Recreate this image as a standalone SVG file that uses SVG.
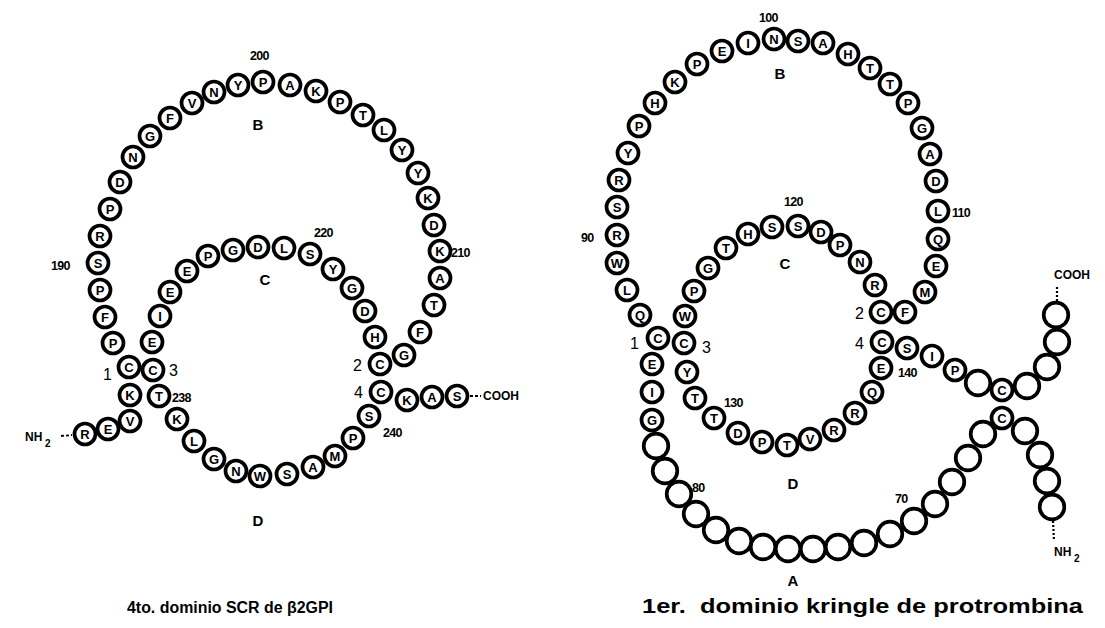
<svg xmlns="http://www.w3.org/2000/svg" width="1105" height="628" viewBox="0 0 1105 628">
<style>
  text { font-family: "Liberation Sans", Arial, sans-serif; fill: #000; }
  .ball { fill: #fff; stroke: #000; stroke-width: 3.7; }
  .res text { font-size: 13px; font-weight: bold; text-anchor: middle; }
  .num { font-size: 12.5px; font-weight: bold; letter-spacing: -0.7px; }
  .cys { font-size: 16px; }
  .loop { font-size: 15px; font-weight: bold; text-anchor: middle; }
  .term { font-size: 12px; font-weight: bold; }
  .sub { font-size: 10px; font-weight: bold; }
  .cap { font-weight: bold; }
  .link { stroke: #000; stroke-width: 1.8; fill: none; }
  .dot { stroke: #000; stroke-width: 2.2; stroke-dasharray: 2 2; fill: none; }
</style>
<defs>
  <circle id="rc" class="ball" r="10.5"/>
  <circle id="ec" class="ball" r="12.3"/>
</defs>
<rect width="1105" height="628" fill="#fff"/>

<!-- terminal links -->
<g id="connectors">
  <line class="link" x1="61" y1="436" x2="72" y2="435" stroke-dasharray="3 2"/>
  <line class="link" x1="470" y1="396" x2="481" y2="396" stroke-dasharray="3 2"/>
  <line class="dot" x1="1057" y1="301" x2="1057" y2="285"/>
  <line class="dot" x1="1053" y1="521" x2="1054" y2="541"/>
</g>

<!-- ===== SCR domain 4 of beta2-GPI ===== -->
<g id="scr">
  <g id="scr-nterm"><text class="term" x="25" y="441">NH</text><text class="sub" x="45" y="447">2</text></g>
  <g id="scr-R186" class="res" transform="translate(85,434)"><use href="#rc"/><text y="4.6">R</text></g>
  <g id="scr-E187" class="res" transform="translate(108,429)"><use href="#rc"/><text y="4.6">E</text></g>
  <g id="scr-V188" class="res" transform="translate(130,421)"><use href="#rc"/><text y="4.6">V</text></g>
  <g id="scr-K189" class="res" transform="translate(130,395)"><use href="#rc"/><text y="4.6">K</text></g>
  <g id="scr-C1" class="res" transform="translate(129,367)"><use href="#rc"/><text y="4.6">C</text></g>
  <g id="scr-P1" class="res" transform="translate(113,343)"><use href="#rc"/><text y="4.6">P</text></g>
  <g id="scr-F1" class="res" transform="translate(105,317)"><use href="#rc"/><text y="4.6">F</text></g>
  <g id="scr-P2" class="res" transform="translate(100,290)"><use href="#rc"/><text y="4.6">P</text></g>
  <g id="scr-S190" class="res" transform="translate(98,263)"><use href="#rc"/><text y="4.6">S</text></g>
  <g id="scr-R1" class="res" transform="translate(100,236)"><use href="#rc"/><text y="4.6">R</text></g>
  <g id="scr-P3" class="res" transform="translate(110,209)"><use href="#rc"/><text y="4.6">P</text></g>
  <g id="scr-D1" class="res" transform="translate(120,182)"><use href="#rc"/><text y="4.6">D</text></g>
  <g id="scr-N1" class="res" transform="translate(133,157)"><use href="#rc"/><text y="4.6">N</text></g>
  <g id="scr-G1" class="res" transform="translate(150,136)"><use href="#rc"/><text y="4.6">G</text></g>
  <g id="scr-F2" class="res" transform="translate(170,118)"><use href="#rc"/><text y="4.6">F</text></g>
  <g id="scr-V1" class="res" transform="translate(192,103)"><use href="#rc"/><text y="4.6">V</text></g>
  <g id="scr-N2" class="res" transform="translate(214,92)"><use href="#rc"/><text y="4.6">N</text></g>
  <g id="scr-Y1" class="res" transform="translate(238,85)"><use href="#rc"/><text y="4.6">Y</text></g>
  <g id="scr-P200" class="res" transform="translate(263,82)"><use href="#rc"/><text y="4.6">P</text></g>
  <g id="scr-A1" class="res" transform="translate(290,85)"><use href="#rc"/><text y="4.6">A</text></g>
  <g id="scr-K1" class="res" transform="translate(316,91)"><use href="#rc"/><text y="4.6">K</text></g>
  <g id="scr-P4" class="res" transform="translate(340,102)"><use href="#rc"/><text y="4.6">P</text></g>
  <g id="scr-T1" class="res" transform="translate(363,115)"><use href="#rc"/><text y="4.6">T</text></g>
  <g id="scr-L1" class="res" transform="translate(384,130)"><use href="#rc"/><text y="4.6">L</text></g>
  <g id="scr-Y2" class="res" transform="translate(402,150)"><use href="#rc"/><text y="4.6">Y</text></g>
  <g id="scr-Y3" class="res" transform="translate(418,173)"><use href="#rc"/><text y="4.6">Y</text></g>
  <g id="scr-K2" class="res" transform="translate(428,198)"><use href="#rc"/><text y="4.6">K</text></g>
  <g id="scr-D2" class="res" transform="translate(434,225)"><use href="#rc"/><text y="4.6">D</text></g>
  <g id="scr-K210" class="res" transform="translate(440,251)"><use href="#rc"/><text y="4.6">K</text></g>
  <g id="scr-A2" class="res" transform="translate(440,278)"><use href="#rc"/><text y="4.6">A</text></g>
  <g id="scr-T2" class="res" transform="translate(434,305)"><use href="#rc"/><text y="4.6">T</text></g>
  <g id="scr-F3" class="res" transform="translate(420,332)"><use href="#rc"/><text y="4.6">F</text></g>
  <g id="scr-G2" class="res" transform="translate(404,355)"><use href="#rc"/><text y="4.6">G</text></g>
  <g id="scr-C2" class="res" transform="translate(380,364)"><use href="#rc"/><text y="4.6">C</text></g>
  <g id="scr-H1" class="res" transform="translate(375,337)"><use href="#rc"/><text y="4.6">H</text></g>
  <g id="scr-D3" class="res" transform="translate(365,311)"><use href="#rc"/><text y="4.6">D</text></g>
  <g id="scr-G3" class="res" transform="translate(352,288)"><use href="#rc"/><text y="4.6">G</text></g>
  <g id="scr-Y4" class="res" transform="translate(333,269)"><use href="#rc"/><text y="4.6">Y</text></g>
  <g id="scr-S220" class="res" transform="translate(310,254)"><use href="#rc"/><text y="4.6">S</text></g>
  <g id="scr-L2" class="res" transform="translate(284,248)"><use href="#rc"/><text y="4.6">L</text></g>
  <g id="scr-D4" class="res" transform="translate(258,247)"><use href="#rc"/><text y="4.6">D</text></g>
  <g id="scr-G4" class="res" transform="translate(233,250)"><use href="#rc"/><text y="4.6">G</text></g>
  <g id="scr-P5" class="res" transform="translate(208,256)"><use href="#rc"/><text y="4.6">P</text></g>
  <g id="scr-E1" class="res" transform="translate(187,271)"><use href="#rc"/><text y="4.6">E</text></g>
  <g id="scr-E2" class="res" transform="translate(170,292)"><use href="#rc"/><text y="4.6">E</text></g>
  <g id="scr-I1" class="res" transform="translate(160,316)"><use href="#rc"/><text y="4.6">I</text></g>
  <g id="scr-E3" class="res" transform="translate(152,342)"><use href="#rc"/><text y="4.6">E</text></g>
  <g id="scr-C3" class="res" transform="translate(153,370)"><use href="#rc"/><text y="4.6">C</text></g>
  <g id="scr-T238" class="res" transform="translate(159,396)"><use href="#rc"/><text y="4.6">T</text></g>
  <g id="scr-K3" class="res" transform="translate(177,419)"><use href="#rc"/><text y="4.6">K</text></g>
  <g id="scr-L3" class="res" transform="translate(194,441)"><use href="#rc"/><text y="4.6">L</text></g>
  <g id="scr-G5" class="res" transform="translate(214,459)"><use href="#rc"/><text y="4.6">G</text></g>
  <g id="scr-N3" class="res" transform="translate(236,471)"><use href="#rc"/><text y="4.6">N</text></g>
  <g id="scr-W1" class="res" transform="translate(260,476)"><use href="#rc"/><text y="4.6">W</text></g>
  <g id="scr-S1" class="res" transform="translate(287,474)"><use href="#rc"/><text y="4.6">S</text></g>
  <g id="scr-A3" class="res" transform="translate(313,467)"><use href="#rc"/><text y="4.6">A</text></g>
  <g id="scr-M1" class="res" transform="translate(335,456)"><use href="#rc"/><text y="4.6">M</text></g>
  <g id="scr-P6" class="res" transform="translate(353,438)"><use href="#rc"/><text y="4.6">P</text></g>
  <g id="scr-S240" class="res" transform="translate(369,416)"><use href="#rc"/><text y="4.6">S</text></g>
  <g id="scr-C4" class="res" transform="translate(381,392)"><use href="#rc"/><text y="4.6">C</text></g>
  <g id="scr-K4" class="res" transform="translate(407,400)"><use href="#rc"/><text y="4.6">K</text></g>
  <g id="scr-A4" class="res" transform="translate(432,397)"><use href="#rc"/><text y="4.6">A</text></g>
  <g id="scr-S2" class="res" transform="translate(457,396)"><use href="#rc"/><text y="4.6">S</text></g>
  <g id="scr-cterm"><text class="term" x="483" y="400">COOH</text></g>

  <g id="scr-labels">
    <text class="num" x="51" y="270">190</text>
    <text class="num" x="250" y="60">200</text>
    <text class="num" x="451" y="257">210</text>
    <text class="num" x="314" y="237">220</text>
    <text class="num" x="172" y="402">238</text>
    <text class="num" x="383" y="437">240</text>
    <text class="cys" x="103" y="380">1</text>
    <text class="cys" x="169" y="376">3</text>
    <text class="cys" x="353" y="371">2</text>
    <text class="cys" x="354" y="398">4</text>
    <text class="loop" x="258" y="130">B</text>
    <text class="loop" x="265" y="285">C</text>
    <text class="loop" x="258" y="526">D</text>
  </g>
  <text class="cap" x="127" y="613" font-size="16" textLength="206" lengthAdjust="spacingAndGlyphs">4to. dominio SCR de β2GPI</text>
</g>

<!-- ===== kringle 1 of prothrombin ===== -->
<g id="kringle">
  <g id="kr-nterm"><text class="term" x="1054" y="556">NH</text><text class="sub" x="1074" y="562">2</text></g>
  <g id="kr-n1" transform="translate(1052,507)"><use href="#ec"/></g>
  <g id="kr-n2" transform="translate(1047,481)"><use href="#ec"/></g>
  <g id="kr-n3" transform="translate(1040,455)"><use href="#ec"/></g>
  <g id="kr-n4" transform="translate(1025,431)"><use href="#ec"/></g>
  <g id="kr-C65" class="res" transform="translate(1002,418)"><use href="#rc"/><text y="4.6">C</text></g>
  <g id="kr-a66" transform="translate(983,434)"><use href="#ec"/></g>
  <g id="kr-a67" transform="translate(968,458)"><use href="#ec"/></g>
  <g id="kr-a68" transform="translate(952,482)"><use href="#ec"/></g>
  <g id="kr-a69" transform="translate(935,504)"><use href="#ec"/></g>
  <g id="kr-a70" transform="translate(914,521)"><use href="#ec"/></g>
  <g id="kr-a71" transform="translate(890,534)"><use href="#ec"/></g>
  <g id="kr-a72" transform="translate(864,543)"><use href="#ec"/></g>
  <g id="kr-a73" transform="translate(838,547)"><use href="#ec"/></g>
  <g id="kr-a74" transform="translate(813,549)"><use href="#ec"/></g>
  <g id="kr-a75" transform="translate(788,549)"><use href="#ec"/></g>
  <g id="kr-a76" transform="translate(763,547)"><use href="#ec"/></g>
  <g id="kr-a77" transform="translate(739,541)"><use href="#ec"/></g>
  <g id="kr-a78" transform="translate(716,530)"><use href="#ec"/></g>
  <g id="kr-a79" transform="translate(696,514)"><use href="#ec"/></g>
  <g id="kr-a80" transform="translate(679,494)"><use href="#ec"/></g>
  <g id="kr-a81" transform="translate(665,471)"><use href="#ec"/></g>
  <g id="kr-a82" transform="translate(656,446)"><use href="#ec"/></g>
  <g id="kr-G83" class="res" transform="translate(652,420)"><use href="#rc"/><text y="4.6">G</text></g>
  <g id="kr-I84" class="res" transform="translate(652,392)"><use href="#rc"/><text y="4.6">I</text></g>
  <g id="kr-E85" class="res" transform="translate(652,364)"><use href="#rc"/><text y="4.6">E</text></g>
  <g id="kr-C1" class="res" transform="translate(658,338)"><use href="#rc"/><text y="4.6">C</text></g>
  <g id="kr-Q87" class="res" transform="translate(640,315)"><use href="#rc"/><text y="4.6">Q</text></g>
  <g id="kr-L88" class="res" transform="translate(627,290)"><use href="#rc"/><text y="4.6">L</text></g>
  <g id="kr-W89" class="res" transform="translate(617,263)"><use href="#rc"/><text y="4.6">W</text></g>
  <g id="kr-R90" class="res" transform="translate(617,235)"><use href="#rc"/><text y="4.6">R</text></g>
  <g id="kr-S91" class="res" transform="translate(617,207)"><use href="#rc"/><text y="4.6">S</text></g>
  <g id="kr-R92" class="res" transform="translate(619,180)"><use href="#rc"/><text y="4.6">R</text></g>
  <g id="kr-Y93" class="res" transform="translate(628,153)"><use href="#rc"/><text y="4.6">Y</text></g>
  <g id="kr-P94" class="res" transform="translate(639,126)"><use href="#rc"/><text y="4.6">P</text></g>
  <g id="kr-H95" class="res" transform="translate(655,103)"><use href="#rc"/><text y="4.6">H</text></g>
  <g id="kr-K96" class="res" transform="translate(675,82)"><use href="#rc"/><text y="4.6">K</text></g>
  <g id="kr-P97" class="res" transform="translate(697,64)"><use href="#rc"/><text y="4.6">P</text></g>
  <g id="kr-E98" class="res" transform="translate(722,51)"><use href="#rc"/><text y="4.6">E</text></g>
  <g id="kr-I99" class="res" transform="translate(748,43)"><use href="#rc"/><text y="4.6">I</text></g>
  <g id="kr-N100" class="res" transform="translate(774,39)"><use href="#rc"/><text y="4.6">N</text></g>
  <g id="kr-S101" class="res" transform="translate(798,41)"><use href="#rc"/><text y="4.6">S</text></g>
  <g id="kr-A102" class="res" transform="translate(823,43)"><use href="#rc"/><text y="4.6">A</text></g>
  <g id="kr-H103" class="res" transform="translate(848,54)"><use href="#rc"/><text y="4.6">H</text></g>
  <g id="kr-T104" class="res" transform="translate(870,68)"><use href="#rc"/><text y="4.6">T</text></g>
  <g id="kr-T105" class="res" transform="translate(890,84)"><use href="#rc"/><text y="4.6">T</text></g>
  <g id="kr-P106" class="res" transform="translate(908,103)"><use href="#rc"/><text y="4.6">P</text></g>
  <g id="kr-G107" class="res" transform="translate(922,128)"><use href="#rc"/><text y="4.6">G</text></g>
  <g id="kr-A108" class="res" transform="translate(930,154)"><use href="#rc"/><text y="4.6">A</text></g>
  <g id="kr-D109" class="res" transform="translate(936,181)"><use href="#rc"/><text y="4.6">D</text></g>
  <g id="kr-L110" class="res" transform="translate(938,211)"><use href="#rc"/><text y="4.6">L</text></g>
  <g id="kr-Q111" class="res" transform="translate(938,239)"><use href="#rc"/><text y="4.6">Q</text></g>
  <g id="kr-E112" class="res" transform="translate(936,266)"><use href="#rc"/><text y="4.6">E</text></g>
  <g id="kr-M113" class="res" transform="translate(925,292)"><use href="#rc"/><text y="4.6">M</text></g>
  <g id="kr-F114" class="res" transform="translate(905,312)"><use href="#rc"/><text y="4.6">F</text></g>
  <g id="kr-C2" class="res" transform="translate(881,312)"><use href="#rc"/><text y="4.6">C</text></g>
  <g id="kr-R116" class="res" transform="translate(875,285)"><use href="#rc"/><text y="4.6">R</text></g>
  <g id="kr-N117" class="res" transform="translate(860,262)"><use href="#rc"/><text y="4.6">N</text></g>
  <g id="kr-P118" class="res" transform="translate(840,245)"><use href="#rc"/><text y="4.6">P</text></g>
  <g id="kr-D119" class="res" transform="translate(821,232)"><use href="#rc"/><text y="4.6">D</text></g>
  <g id="kr-S120" class="res" transform="translate(798,226)"><use href="#rc"/><text y="4.6">S</text></g>
  <g id="kr-S121" class="res" transform="translate(772,227)"><use href="#rc"/><text y="4.6">S</text></g>
  <g id="kr-H122" class="res" transform="translate(748,234)"><use href="#rc"/><text y="4.6">H</text></g>
  <g id="kr-T123" class="res" transform="translate(726,248)"><use href="#rc"/><text y="4.6">T</text></g>
  <g id="kr-G124" class="res" transform="translate(708,268)"><use href="#rc"/><text y="4.6">G</text></g>
  <g id="kr-P125" class="res" transform="translate(694,291)"><use href="#rc"/><text y="4.6">P</text></g>
  <g id="kr-W126" class="res" transform="translate(685,316)"><use href="#rc"/><text y="4.6">W</text></g>
  <g id="kr-C3" class="res" transform="translate(684,343)"><use href="#rc"/><text y="4.6">C</text></g>
  <g id="kr-Y128" class="res" transform="translate(687,372)"><use href="#rc"/><text y="4.6">Y</text></g>
  <g id="kr-T129" class="res" transform="translate(695,398)"><use href="#rc"/><text y="4.6">T</text></g>
  <g id="kr-T130" class="res" transform="translate(714,418)"><use href="#rc"/><text y="4.6">T</text></g>
  <g id="kr-D131" class="res" transform="translate(738,433)"><use href="#rc"/><text y="4.6">D</text></g>
  <g id="kr-P132" class="res" transform="translate(762,442)"><use href="#rc"/><text y="4.6">P</text></g>
  <g id="kr-T133" class="res" transform="translate(787,445)"><use href="#rc"/><text y="4.6">T</text></g>
  <g id="kr-V134" class="res" transform="translate(810,439)"><use href="#rc"/><text y="4.6">V</text></g>
  <g id="kr-R135" class="res" transform="translate(834,430)"><use href="#rc"/><text y="4.6">R</text></g>
  <g id="kr-R136" class="res" transform="translate(855,413)"><use href="#rc"/><text y="4.6">R</text></g>
  <g id="kr-Q137" class="res" transform="translate(872,392)"><use href="#rc"/><text y="4.6">Q</text></g>
  <g id="kr-E138" class="res" transform="translate(881,368)"><use href="#rc"/><text y="4.6">E</text></g>
  <g id="kr-C4" class="res" transform="translate(882,342)"><use href="#rc"/><text y="4.6">C</text></g>
  <g id="kr-S140" class="res" transform="translate(907,348)"><use href="#rc"/><text y="4.6">S</text></g>
  <g id="kr-I141" class="res" transform="translate(932,356)"><use href="#rc"/><text y="4.6">I</text></g>
  <g id="kr-P142" class="res" transform="translate(955,370)"><use href="#rc"/><text y="4.6">P</text></g>
  <g id="kr-c143" transform="translate(978,383)"><use href="#ec"/></g>
  <g id="kr-C144" class="res" transform="translate(1002,390)"><use href="#rc"/><text y="4.6">C</text></g>
  <g id="kr-c145" transform="translate(1027,386)"><use href="#ec"/></g>
  <g id="kr-c146" transform="translate(1047,367)"><use href="#ec"/></g>
  <g id="kr-c147" transform="translate(1057,342)"><use href="#ec"/></g>
  <g id="kr-c148" transform="translate(1056,315)"><use href="#ec"/></g>
  <g id="kr-cterm"><text class="term" x="1054" y="279">COOH</text></g>

  <g id="kr-labels">
    <text class="num" x="581" y="242">90</text>
    <text class="num" x="759" y="22">100</text>
    <text class="num" x="952" y="217">110</text>
    <text class="num" x="784" y="206">120</text>
    <text class="num" x="724" y="407">130</text>
    <text class="num" x="898" y="377">140</text>
    <text class="num" x="895" y="503">70</text>
    <text class="num" x="692" y="492">80</text>
    <text class="cys" x="630" y="349">1</text>
    <text class="cys" x="702" y="353">3</text>
    <text class="cys" x="855" y="319">2</text>
    <text class="cys" x="855" y="349">4</text>
    <text class="loop" x="780" y="79">B</text>
    <text class="loop" x="785" y="269">C</text>
    <text class="loop" x="793" y="489">D</text>
    <text class="loop" x="793" y="586">A</text>
  </g>
  <text class="cap" x="642" y="613" font-size="21" textLength="441" lengthAdjust="spacingAndGlyphs" xml:space="preserve">1er.  dominio kringle de protrombina</text>
</g>
</svg>
